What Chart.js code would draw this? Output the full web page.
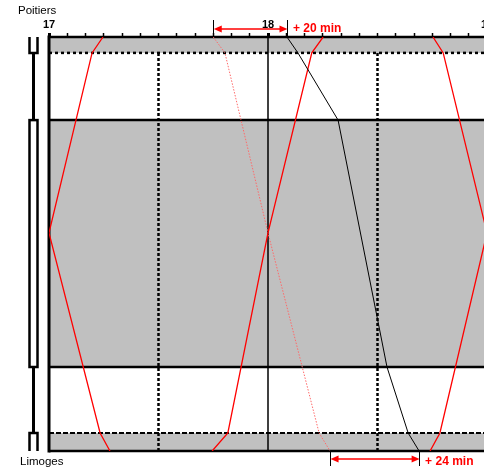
<!DOCTYPE html>
<html>
<head>
<meta charset="utf-8">
<script src="https://cdn.jsdelivr.net/npm/chart.js@4.4.0/dist/chart.umd.min.js"></script>
<style>
  html, body { margin: 0; padding: 0; background: #fff; overflow: hidden; }
  #wrap { width: 484px; height: 468px; overflow: hidden; }
</style>
</head>
<body>
<div id="wrap"><canvas id="graph" width="500" height="468"></canvas></div>
<script>
// distances along the line, km from Poitiers
const stationNames = ['Poitiers', 'Limoges'];
const stationKm = [0, 5.3, 27.7, 110, 132, 138];
const doubleTrack = [[0, 5.3], [27.7, 110], [132, 138]];
// time axis in minutes after 17:00
const hourLabels = ['17', '18', '19'];
const halfHours = [30, 90];

// trains (minutes after 17:00 / km)
const up17Min = [0, 11.8, 14.8];
const up17Km = [65.3, 5.3, 0];
const down17Min = [0, 14, 16.7];
const down17Km = [65.3, 132, 138];
const up18Min = [44.7, 49, 60, 72, 75.1];
const up18Km = [138, 132, 65.3, 5.3, 0];
const planned18Min = [45, 48.2, 60, 74, 77];
const planned18Km = [0, 5.3, 65.3, 132, 138];
const delayed18Min = [65.2, 68.2, 79.2, 92.6, 98.4, 101.4];
const delayed18Km = [0, 5.3, 27.7, 110, 132, 138];
const down19Min = [105.2, 108, 120];
const down19Km = [0, 5.3, 65.3];
const up19Min = [104.4, 107.1, 120];
const up19Km = [138, 132, 65.3];

const delayLabels = ['+ 20 min', '+ 24 min'];

const FONT = "'Liberation Sans', Arial, sans-serif";

function train(mins, kms, color, width, dash) {
    return {
        data: mins.map((m, i) => ({ x: m, y: kms[i] })),
        showLine: true,
        borderColor: color,
        borderWidth: width,
        borderDash: dash || [],
        pointRadius: 0,
        fill: false
    };
}

function hline(ctx, x0, x1, y) {
    ctx.beginPath(); ctx.moveTo(x0, y); ctx.lineTo(x1, y); ctx.stroke();
}
function vline(ctx, x, y0, y1) {
    ctx.beginPath(); ctx.moveTo(x, y0); ctx.lineTo(x, y1); ctx.stroke();
}

function arrowHead(ctx, x, y, dir) {
    ctx.beginPath();
    ctx.moveTo(x, y);
    ctx.lineTo(x + dir * 8, y - 3.5);
    ctx.lineTo(x + dir * 8, y + 3.5);
    ctx.closePath();
    ctx.fill();
}

// delay mark: two black bars and a red double arrow between them
function delayMark(ctx, x0, x1, barTop, barBottom, yArrow, label, textY) {
    ctx.strokeStyle = '#000';
    ctx.lineWidth = 1;
    vline(ctx, Math.round(x0) + 0.5, barTop, barBottom);
    vline(ctx, Math.round(x1) + 0.5, barTop, barBottom);
    ctx.strokeStyle = '#ff0000';
    ctx.fillStyle = '#ff0000';
    ctx.lineWidth = 1.5;
    hline(ctx, x0 + 6, x1 - 6, yArrow);
    arrowHead(ctx, x0 + 0.5, yArrow, 1);
    arrowHead(ctx, x1 + 0.5, yArrow, -1);
    ctx.font = 'bold 12px ' + FONT;
    ctx.textAlign = 'left';
    ctx.textBaseline = 'alphabetic';
    ctx.fillText(label, x1 + 6, textY);
}

const trackPlugin = {
    id: 'track',
    beforeDatasetsDraw(chart) {
        const { ctx, chartArea: a, scales: { x, y } } = chart;
        const Y = km => y.getPixelForValue(km);
        const last = stationKm[stationKm.length - 1];
        ctx.save();

        // double track sections in gray
        ctx.fillStyle = '#c0c0c0';
        doubleTrack.forEach(([k0, k1]) => {
            ctx.fillRect(a.left, Y(k0), a.right - a.left, Y(k1) - Y(k0));
        });

        // half hour lines (dotted) and 18:00 line
        ctx.strokeStyle = '#000';
        ctx.lineWidth = 2.5;
        ctx.setLineDash([3, 2]);
        halfHours.forEach(t => vline(ctx, x.getPixelForValue(t), Y(stationKm[1]), Y(last)));
        ctx.setLineDash([]);
        ctx.lineWidth = 1.5;
        vline(ctx, x.getPixelForValue(60), Y(0), Y(last));

        // station limits
        ctx.lineWidth = 2.5;
        [0, 27.7, 110, 138].forEach(k => hline(ctx, a.left, a.right, Y(k)));
        ctx.setLineDash([3, 3]);
        hline(ctx, a.left, a.right, Y(stationKm[1]));
        ctx.lineWidth = 2;
        ctx.setLineDash([5, 2]);
        hline(ctx, a.left, a.right, Y(stationKm[4]));
        ctx.setLineDash([]);

        // left border
        ctx.lineWidth = 3;
        vline(ctx, a.left, Y(0) - 1.5, Y(last) + 1.5);
        ctx.restore();
    },
    afterDraw(chart) {
        const { ctx, chartArea: a, scales: { x, y } } = chart;
        const Y = km => y.getPixelForValue(km);
        const X = t => x.getPixelForValue(t);
        ctx.save();

        // track diagram left of the graph
        const cx = a.left - 15.5;
        ctx.strokeStyle = '#000';
        ctx.lineWidth = 3;
        vline(ctx, cx, Y(stationKm[1]), Y(stationKm[2]));
        vline(ctx, cx, Y(stationKm[3]), Y(stationKm[4]));
        ctx.lineWidth = 2.5;
        ctx.beginPath();
        ctx.moveTo(cx - 4, Y(0)); ctx.lineTo(cx - 4, Y(stationKm[1]));
        ctx.lineTo(cx + 4, Y(stationKm[1])); ctx.lineTo(cx + 4, Y(0));
        ctx.stroke();
        ctx.strokeRect(cx - 4, Y(stationKm[2]), 8, Y(stationKm[3]) - Y(stationKm[2]));
        ctx.beginPath();
        ctx.moveTo(cx - 4, Y(138)); ctx.lineTo(cx - 4, Y(stationKm[4]));
        ctx.lineTo(cx + 4, Y(stationKm[4])); ctx.lineTo(cx + 4, Y(138));
        ctx.stroke();

        // station names
        ctx.fillStyle = '#000';
        ctx.font = '11.5px ' + FONT;
        ctx.textAlign = 'left';
        ctx.textBaseline = 'alphabetic';
        ctx.fillText(stationNames[0], a.left - 31, Y(0) - 23);
        ctx.fillText(stationNames[1], a.left - 29, Y(138) + 14);

        // delays at Poitiers and Limoges
        delayMark(ctx, X(planned18Min[0]), X(delayed18Min[0]),
            a.top - 17, a.top, a.top - 8, delayLabels[0], a.top - 5);
        delayMark(ctx, X(planned18Min[planned18Min.length - 1]),
            X(delayed18Min[delayed18Min.length - 1]),
            a.bottom, a.bottom + 15, a.bottom + 8, delayLabels[1], a.bottom + 14);
        ctx.restore();
    }
};

new Chart(document.getElementById('graph'), {
    type: 'scatter',
    data: {
        datasets: [
            train(delayed18Min, delayed18Km, '#000000', 1),
            train(up17Min, up17Km, '#ff0000', 1.3),
            train(down17Min, down17Km, '#ff0000', 1.3),
            train(up18Min, up18Km, '#ff0000', 1.3),
            train(planned18Min, planned18Km, '#ff6a6a', 1, [1.5, 1.5]),
            train(down19Min, down19Km, '#ff0000', 1.3),
            train(up19Min, up19Km, '#ff0000', 1.3)
        ]
    },
    options: {
        responsive: false,
        animation: false,
        layout: { padding: { left: 49, right: 13, top: 17, bottom: 17 } },
        plugins: { legend: { display: false }, tooltip: { enabled: false } },
        scales: {
            x: {
                type: 'linear',
                position: 'top',
                min: 0,
                max: 120,
                afterFit: s => { s.height = 20; },
                border: { display: false },
                grid: {
                    drawOnChartArea: false,
                    drawTicks: true,
                    tickLength: 4,
                    tickColor: '#000',
                    tickWidth: c => (c.tick && c.tick.value % 60 === 0) ? 3 : 1.5
                },
                ticks: {
                    stepSize: 5,
                    autoSkip: false,
                    maxRotation: 0,
                    padding: 1,
                    color: '#000',
                    font: { family: FONT, size: 11, weight: 'bold' },
                    callback: v => v % 60 === 0 ? hourLabels[v / 60] : ''
                }
            },
            y: { type: 'linear', reverse: true, min: 0, max: 138, display: false }
        }
    },
    plugins: [trackPlugin]
});
</script>
</body>
</html>
